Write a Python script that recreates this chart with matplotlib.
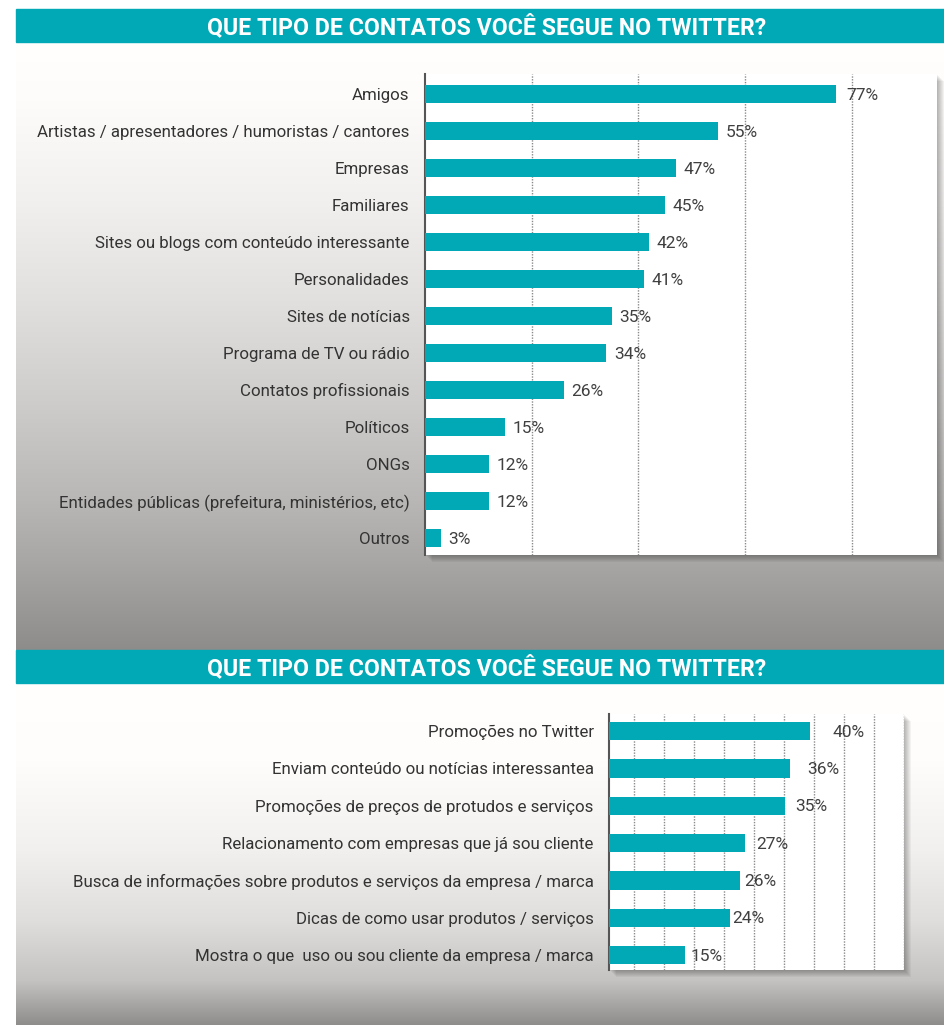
import numpy as np
import matplotlib.pyplot as plt
from matplotlib.patches import Rectangle

plt.rcParams['font.family'] = ['Roboto', 'DejaVu Sans']

# dados
titulo = "QUE TIPO DE CONTATOS VOCÊ SEGUE NO TWITTER?"

contatos = ["Amigos",
            "Artistas / apresentadores / humoristas / cantores",
            "Empresas",
            "Familiares",
            "Sites ou blogs com conteúdo interessante",
            "Personalidades",
            "Sites de notícias",
            "Programa de TV ou rádio",
            "Contatos profissionais",
            "Políticos",
            "ONGs",
            "Entidades públicas (prefeitura, ministérios, etc)",
            "Outros"]
contatos_pct = [77, 55, 47, 45, 42, 41, 35, 34, 26, 15, 12, 12, 3]

motivos = ["Promoções no Twitter",
           "Enviam conteúdo ou notícias interessantea",
           "Promoções de preços de protudos e serviços",
           "Relacionamento com empresas que já sou cliente",
           "Busca de informações sobre produtos e serviços da empresa / marca",
           "Dicas de como usar produtos / serviços",
           "Mostra o que  uso ou sou cliente da empresa / marca"]
motivos_pct = [40, 36, 35, 27, 26, 24, 15]

TEAL = '#00A9B5'
W, H = 944, 1025

fig = plt.figure(figsize=(W / 100, H / 100), dpi=100)
bg = fig.add_axes([0, 0, 1, 1])
bg.axis('off')


def gradiente(y0, y1, pontos):
    ys = np.arange(y0, y1)
    g = np.interp(ys, [p[0] for p in pontos], [p[1] for p in pontos]) / 255
    img = np.stack([g + 0.006, g, g - 0.006], axis=-1).clip(0, 1)[:, None, :]
    bg.imshow(img, extent=(16, W, y1, y0), aspect='auto', zorder=0)


def faixa(y0, y1):
    bg.add_patch(Rectangle((16, y0), W - 16, y1 - y0, color=TEAL, zorder=2))
    bg.text(487, (y0 + y1) / 2 + 1, titulo, color='white', fontsize=16.7,
            fontweight='bold', ha='center', va='center', zorder=3)


def sombra(x0, y0, x1, y1):
    for d in range(1, 8):
        bg.add_patch(Rectangle((x0 + d, y0 + d), x1 - x0, y1 - y0,
                               color='black', alpha=0.045, lw=0, zorder=1))


# fundos com degrade
gradiente(42, 650, [(42, 255), (100, 252), (200, 240), (300, 224),
                    (400, 205), (500, 183), (560, 167), (600, 155), (650, 140)])
gradiente(683, H, [(683, 255), (760, 253), (850, 240), (920, 222),
                   (980, 195), (H, 140)])
faixa(9, 42)
faixa(650, 683)

caixa1 = (425, 74, 937, 555)
caixa2 = (609, 714, 904, 970)
sombra(*caixa1)
sombra(*caixa2)

bg.set_xlim(0, W)
bg.set_ylim(H, 0)


def grafico(caixa, nomes, valores, xmax, ticks, ymarg, desloc):
    x0, y0, x1, y1 = caixa
    ax = fig.add_axes([x0 / W, 1 - y1 / H, (x1 - x0) / W, (y1 - y0) / H])
    ax.set_facecolor('white')
    pos = np.arange(len(nomes))
    ax.barh(pos, valores, height=0.49, color=TEAL, zorder=3)
    ax.set_ylim(len(nomes) - 1 + ymarg[1], -ymarg[0])
    ax.set_xlim(0, xmax)
    ax.set_xticks(ticks)
    ax.set_xticklabels([])
    ax.tick_params(axis='x', length=0)
    ax.grid(axis='x', linestyle=(0, (1, 1)), color='#8a8a8a', lw=1, zorder=1)
    ax.set_yticks(pos, nomes, fontsize=12.2, color='#333333')
    ax.tick_params(axis='y', length=0, pad=11)
    for s in ['top', 'right', 'bottom']:
        ax.spines[s].set_visible(False)
    ax.spines['left'].set_color('#555555')
    ax.spines['left'].set_linewidth(1.5)
    for i, v in enumerate(valores):
        ax.annotate(f"{v}%", (v, i + 0.03), xytext=(desloc[i], 0),
                    textcoords='offset points', va='center', ha='left',
                    fontsize=12.5, color='#404040', zorder=4)
    return ax


grafico(caixa1, contatos, contatos_pct, 96, [20, 40, 60, 80],
        (0.54, 0.46), [8] + [5.5] * 12)
grafico(caixa2, motivos, motivos_pct, 58.6, 5 + 5.95 * np.arange(10),
        (0.46, 0.40), [16, 12, 7, 8, 3.5, 2, 4])

plt.savefig("out.png", dpi=100)
